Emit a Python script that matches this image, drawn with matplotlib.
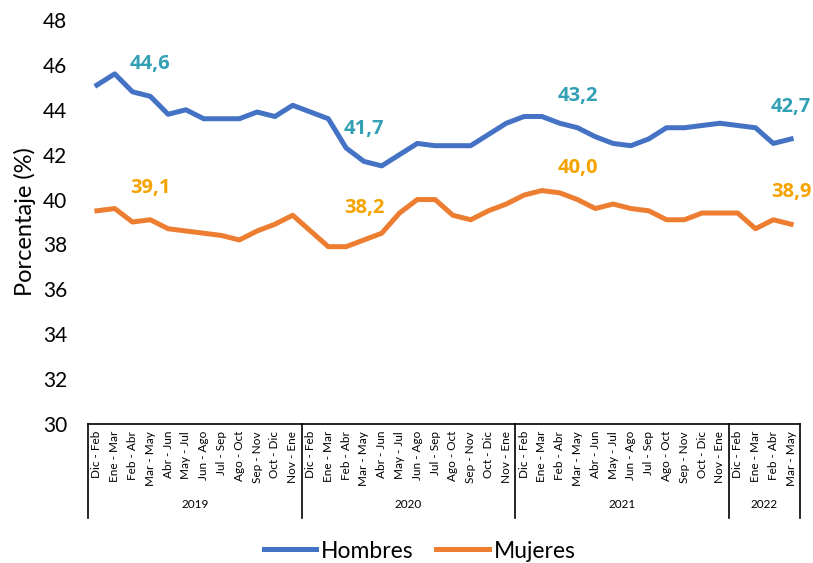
import matplotlib
matplotlib.use("Agg")
import matplotlib.pyplot as plt
import matplotlib.transforms as mtransforms

plt.rcParams['font.family'] = ['Lato', 'DejaVu Sans']

periods = ["Dic - Feb", "Ene - Mar", "Feb - Abr", "Mar - May", "Abr - Jun", "May - Jul",
           "Jun - Ago", "Jul - Sep", "Ago - Oct", "Sep - Nov", "Oct - Dic", "Nov - Ene"]
years = ["2019", "2020", "2021", "2022"]
year_counts = [12, 12, 12, 4]
categories = []
for n in year_counts:
    categories += periods[:n]

hombres = [45.1, 45.6, 44.8, 44.6, 43.8, 44.0, 43.6, 43.6, 43.6, 43.9, 43.7, 44.2,
           43.9, 43.6, 42.3, 41.7, 41.5, 42.0, 42.5, 42.4, 42.4, 42.4, 42.9, 43.4,
           43.7, 43.7, 43.4, 43.2, 42.8, 42.5, 42.4, 42.7, 43.2, 43.2, 43.3, 43.4,
           43.3, 43.2, 42.5, 42.7]
mujeres = [39.5, 39.6, 39.0, 39.1, 38.7, 38.6, 38.5, 38.4, 38.2, 38.6, 38.9, 39.3,
           38.6, 37.9, 37.9, 38.2, 38.5, 39.4, 40.0, 40.0, 39.3, 39.1, 39.5, 39.8,
           40.2, 40.4, 40.3, 40.0, 39.6, 39.8, 39.6, 39.5, 39.1, 39.1, 39.4, 39.4,
           39.4, 38.7, 39.1, 38.9]
label_idx = [3, 15, 27, 39]

fig = plt.figure(figsize=(8.13, 5.63), dpi=100)
ax = fig.add_axes([88/813, 1-424/563, (800-88)/813, (424-20)/563])

x = list(range(len(categories)))
ax.plot(x, hombres, color='#4472C4', lw=3.6, solid_joinstyle='round', label='Hombres')
ax.plot(x, mujeres, color='#ED7D31', lw=3.6, solid_joinstyle='round', label='Mujeres')

for i in label_idx:
    ax.annotate(f"{hombres[i]:.1f}".replace('.', ','), (i, hombres[i]), xytext=(0, 23),
                textcoords='offset points', ha='center', va='center', fontsize=14.5,
                fontweight='bold', color='#33A0B5', family=['Open Sans', 'DejaVu Sans'])
    ax.annotate(f"{mujeres[i]:.1f}".replace('.', ','), (i, mujeres[i]), xytext=(0, 23),
                textcoords='offset points', ha='center', va='center', fontsize=14.5,
                fontweight='bold', color='#F5A300', family=['Open Sans', 'DejaVu Sans'])

ax.set_xlim(-0.5, len(categories) - 0.5)
ax.set_ylim(30, 48)
ax.set_yticks(range(30, 49, 2))
ax.tick_params(axis='y', length=0, pad=15, labelsize=15)
ax.set_xticks(x)
ax.set_xticklabels(categories, rotation=90, fontsize=8.5, va='top', ha='center')
ax.tick_params(axis='x', length=0, pad=5)
for s in ['top', 'right', 'left']:
    ax.spines[s].set_visible(False)
ax.spines['bottom'].set_color('black')
ax.spines['bottom'].set_linewidth(1.2)
ax.set_ylabel("Porcentaje (%)", fontsize=17, labelpad=5)

trans = mtransforms.blended_transform_factory(ax.transData, ax.transAxes)
start = -0.5
bounds = [start]
for n in year_counts:
    bounds.append(bounds[-1] + n)
for b in bounds:
    ax.plot([b, b], [0, -0.232], color='black', lw=1.2, transform=trans, clip_on=False)
for yname, a, b in zip(years, bounds[:-1], bounds[1:]):
    ax.text((a + b) / 2, -0.2, yname, transform=trans, ha='center', va='center', fontsize=8.5)

fig.legend(loc='lower center', ncol=2, frameon=False, fontsize=16.5, handlelength=2.3,
           handletextpad=0.2, columnspacing=1.0, bbox_to_anchor=(0.516, -0.034))

fig.savefig("out.png", dpi=100)
